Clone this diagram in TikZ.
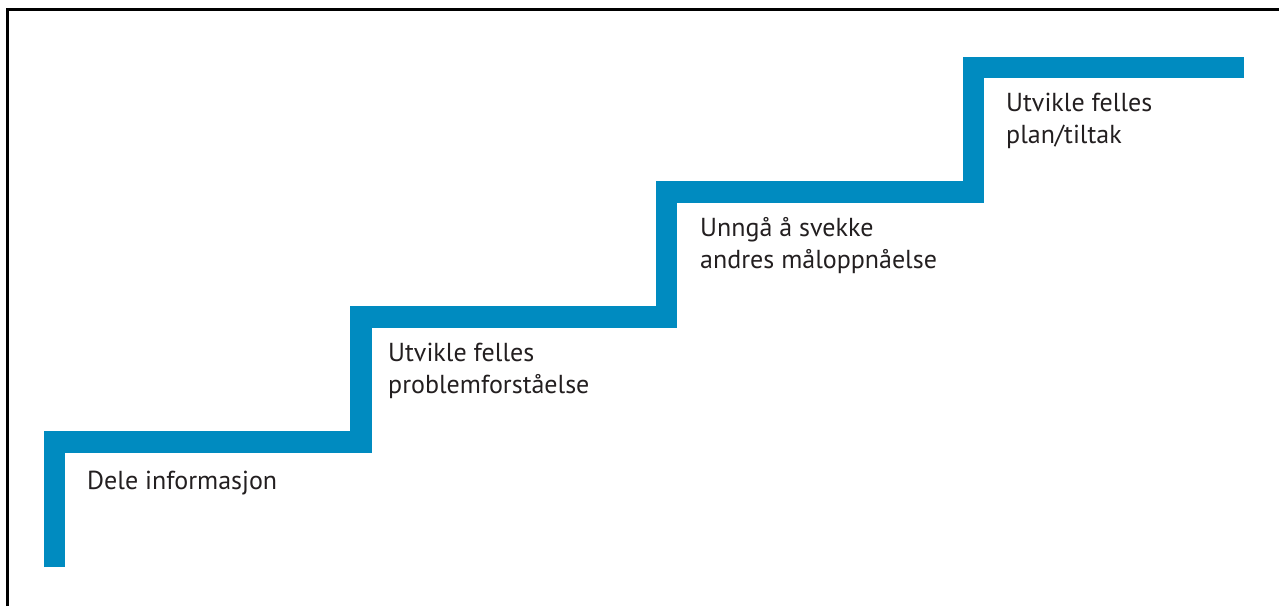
\documentclass[tikz,border=0pt]{standalone}
\usepackage{fontspec}
\setmainfont{PT Sans}
\definecolor{stairblue}{RGB}{0,139,192}
\definecolor{textgray}{RGB}{35,31,32}

\begin{document}
\begin{tikzpicture}[x=1pt,y=-1pt]
\tikzset{
  frame/.style    = {draw=black, line width=3pt},
  stair/.style    = {draw=stairblue, line width=21.5pt,
                     line cap=butt, line join=miter},
  steptext/.style = {anchor=base west, inner sep=0pt, align=left,
                     text=textgray, font=\fontsize{26}{32}\selectfont}
}
\useasboundingbox (0,0) rectangle (1279,606);
% frame, only the left and top edges show
\draw[frame] (7.5,606) |- (1279,9.5);
% the staircase
\draw[stair] (54.5,567) |- (361,442) |- (666.5,317) |- (973.5,192)
  |- (1244,67.5);
% steps (base = baseline of the last line)
\node[steptext] (dele)    at (87,489)   {Dele informasjon};
\node[steptext] (problem) at (388,393)  {Utvikle felles\\problemforståelse};
\node[steptext] (unnga)   at (700,268)  {Unngå å svekke\\andres måloppnåelse};
\node[steptext] (plan)    at (1006,143) {Utvikle felles\\plan/tiltak};
\end{tikzpicture}
\end{document}
